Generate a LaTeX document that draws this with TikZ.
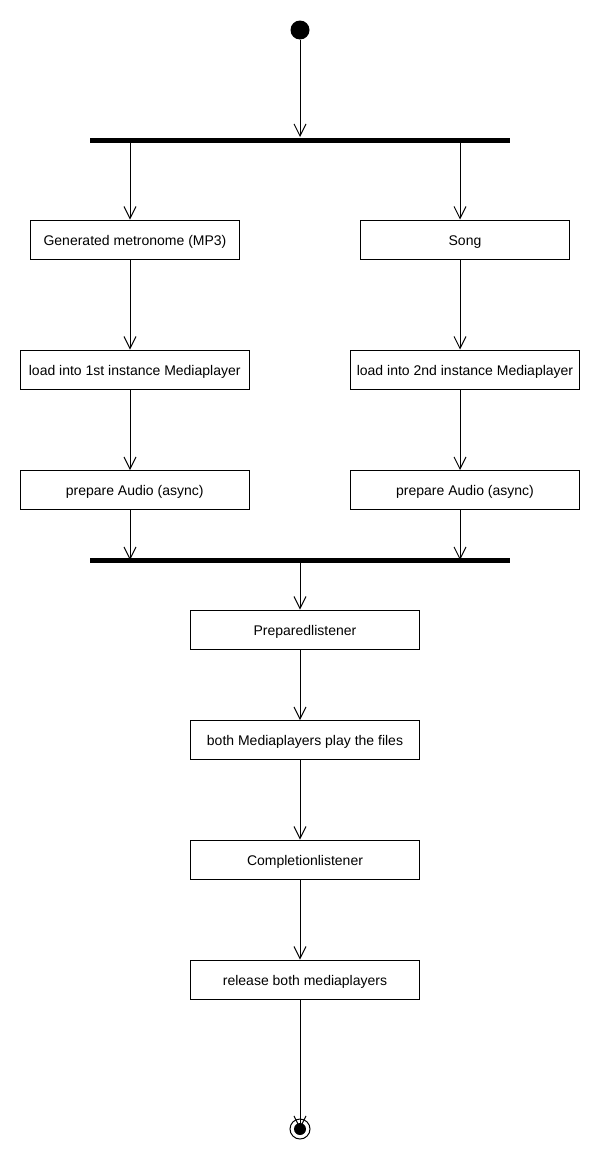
\documentclass[tikz,border=0pt]{standalone}
\usepackage{fontspec}
\setmainfont{Liberation Sans}
\usetikzlibrary{arrows.meta}
\usetikzlibrary{positioning}
\tikzset{every picture/.style={line width=1pt},
  act/.style={draw,rectangle,minimum height=39pt,inner sep=0pt,text height=11.8pt,text depth=0pt,font=\fontsize{14}{16}\selectfont},
  bar/.style={fill=black,rectangle,minimum width=420pt,minimum height=5pt,inner sep=0pt},
  flow/.style={-{Straight Barb[length=12pt,width=12pt]}}}

\begin{document}
\begin{tikzpicture}[x=1pt,y=-1pt]
\useasboundingbox (0,0) rectangle (600,1170);
\coordinate (colL) at (130,0);
\coordinate (colR) at (460,0);
\node[fill,circle,minimum size=19pt,inner sep=0pt] (start) at (300,30) {};
\node[bar] (fork) at (300,140) {};
\node[act,minimum width=209pt] (gen) at (135,239.5) {Generated metronome (MP3)};
\node[act,minimum width=209pt] (song) at (465,239.5) {Song};
\node[act,minimum width=229pt] (loadA) at (134.7,369.5) {load into 1st instance Mediaplayer};
\node[act,minimum width=229pt] (loadB) at (465,369.5) {load into 2nd instance Mediaplayer};
\node[act,minimum width=229pt] (prepA) at (134.7,490) {prepare Audio (async)};
\node[act,minimum width=229pt] (prepB) at (465,490) {prepare Audio (async)};
\node[bar] (join) at (300,560) {};
\node[act,minimum width=229pt] (prepared) at (305,629.5) {Preparedlistener};
\node[act,minimum width=229pt] (play) at (305,740) {both Mediaplayers play the files};
\node[act,minimum width=229pt] (complete) at (305,859.5) {Completionlistener};
\node[act,minimum width=229pt] (release) at (305,979.5) {release both mediaplayers};
\node[draw,circle,minimum size=20pt,inner sep=0pt] (stop) at (300,1129) {};
\node[fill,circle,minimum size=12pt,inner sep=0pt] (stopdot) at (stop) {};
\draw[flow] (start) -- (fork);
\draw[flow] (fork.south -| colL) -- (gen.north -| colL);
\draw[flow] (fork.south -| colR) -- (song.north -| colR);
\draw[flow] (gen.south -| colL) -- (loadA.north -| colL);
\draw[flow] (song.south -| colR) -- (loadB.north -| colR);
\draw[flow] (loadA.south -| colL) -- (prepA.north -| colL);
\draw[flow] (loadB.south -| colR) -- (prepB.north -| colR);
\draw[flow] (prepA.south -| colL) -- (join.center -| colL);
\draw[flow] (prepB.south -| colR) -- (join.center -| colR);
\draw[flow] (join.south) -- (prepared.north -| join);
\draw[flow] (prepared.south -| join) -- (play.north -| join);
\draw[flow] (play.south -| join) -- (complete.north -| join);
\draw[flow] (complete.south -| join) -- (release.north -| join);
\draw[flow] (release.south -| join) -- (stop.center);
\end{tikzpicture}
\end{document}
